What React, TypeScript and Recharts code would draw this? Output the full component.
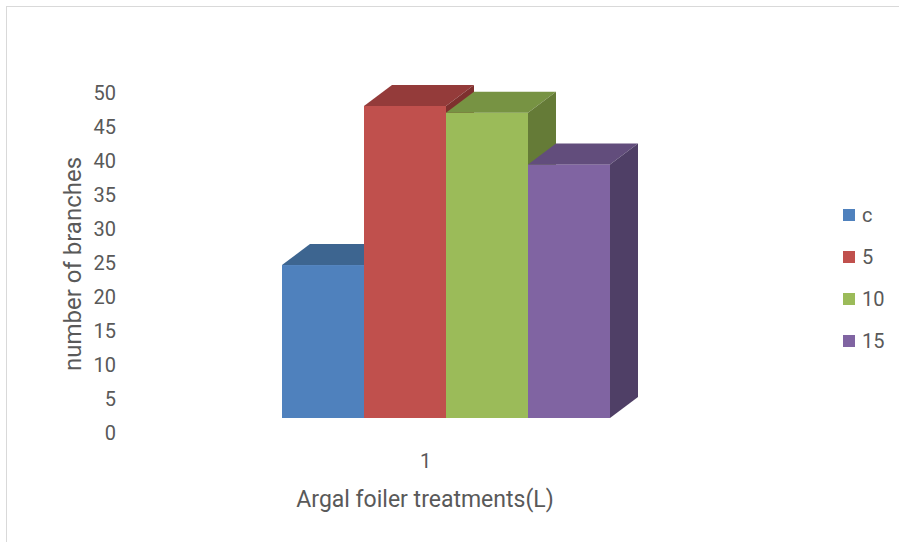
import React from 'react';
import { BarChart, Bar, XAxis, YAxis, Label } from 'recharts';

const categories = ['1'];
const seriesKeys = ['c', 's5', 's10', 's15'];
const seriesNames = ['c', '5', '10', '15'];
const cValues = [24.7];
const fiveValues = [48.1];
const tenValues = [47.1];
const fifteenValues = [39.5];
const yTicks = [0, 5, 10, 15, 20, 25, 30, 35, 40, 45, 50];

// front / top / side shades for each series
const frontColors = ['#4f81bd', '#c0504d', '#9bbb59', '#8064a2'];
const topColors = ['#3d6590', '#943b3a', '#779343', '#624d7c'];
const sideColors = ['#34567b', '#7e302e', '#657b37', '#4f3f66'];

const data = categories.map((cat, i) => ({
  cat,
  c: cValues[i],
  s5: fiveValues[i],
  s10: tenValues[i],
  s15: fifteenValues[i],
}));

const TEXT = '#595959';
const FONT = 'Roboto, "Noto Sans", sans-serif';
const DEPTH_X = 28;
const DEPTH_Y = 21;
const FLOOR = 15;

const makeBox = (idx: number) => (props: any) => {
  const { x, y, width, height } = props;
  const bottom = y + height - FLOOR;
  const right = x + width;
  return (
    <g>
      <rect x={x} y={y} width={width} height={bottom - y} fill={frontColors[idx]} />
      <polygon
        points={`${x},${y} ${right},${y} ${right + DEPTH_X},${y - DEPTH_Y} ${x + DEPTH_X},${y - DEPTH_Y}`}
        fill={topColors[idx]}
      />
      <polygon
        points={`${right},${y} ${right + DEPTH_X},${y - DEPTH_Y} ${right + DEPTH_X},${bottom - DEPTH_Y} ${right},${bottom}`}
        fill={sideColors[idx]}
      />
    </g>
  );
};

const CategoryTick = (props: any) => {
  const { x, y, payload } = props;
  return (
    <text x={x - 21} y={y} dy="0.355em" textAnchor="middle" fill={TEXT} fontSize={20} fontFamily={FONT}>
      {payload.value}
    </text>
  );
};

export default function App() {
  return (
    <div style={{ position: 'absolute', left: 0, top: 0, width: 899, height: 542, overflow: 'hidden', background: '#fff' }}>
      <div
        style={{
          position: 'absolute',
          left: 6,
          top: 6,
          width: 960,
          height: 600,
          borderLeft: '1.5px solid #d9d9d9',
          borderTop: '1.5px solid #d9d9d9',
        }}
      />
      <BarChart
        width={899}
        height={542}
        data={data}
        margin={{ top: 93, right: 122, bottom: 0, left: 0 }}
        barCategoryGap={166}
        barGap={0}
        style={{ position: 'absolute', left: 0, top: 0 }}
      >
        <XAxis
          dataKey="cat"
          height={109}
          axisLine={false}
          tickLine={false}
          tickSize={0}
          tickMargin={28}
          tick={<CategoryTick />}
        >
          <Label
            content={() => (
              <text x={425} y={499} dy="0.355em" textAnchor="middle" fill={TEXT} fontSize={23} fontFamily={FONT}>
                Argal foiler treatments(L)
              </text>
            )}
          />
        </XAxis>
        <YAxis
          width={116}
          domain={[0, 50]}
          ticks={yTicks}
          interval={0}
          axisLine={false}
          tickLine={false}
          tickSize={0}
          tickMargin={0}
          tick={{ fill: TEXT, fontSize: 20, fontFamily: FONT }}
        >
          <Label
            content={() => (
              <text
                x={72}
                y={264}
                dy="0.355em"
                transform="rotate(-90, 72, 264)"
                textAnchor="middle"
                fill={TEXT}
                fontSize={24}
                fontFamily={FONT}
              >
                number of branches
              </text>
            )}
          />
        </YAxis>
        {seriesKeys.map((key, i) => (
          <Bar key={key} dataKey={key} name={seriesNames[i]} shape={makeBox(i)} isAnimationActive={false} />
        ))}
      </BarChart>
      <div style={{ position: 'absolute', left: 843, top: 194, fontFamily: FONT, fontSize: 20, color: TEXT }}>
        {seriesNames.map((name, i) => (
          <div key={name} style={{ display: 'flex', alignItems: 'center', height: 42, lineHeight: '20px' }}>
            <span style={{ display: 'inline-block', width: 12, height: 12, background: frontColors[i], marginRight: 7 }} />
            <span>{name}</span>
          </div>
        ))}
      </div>
    </div>
  );
}
